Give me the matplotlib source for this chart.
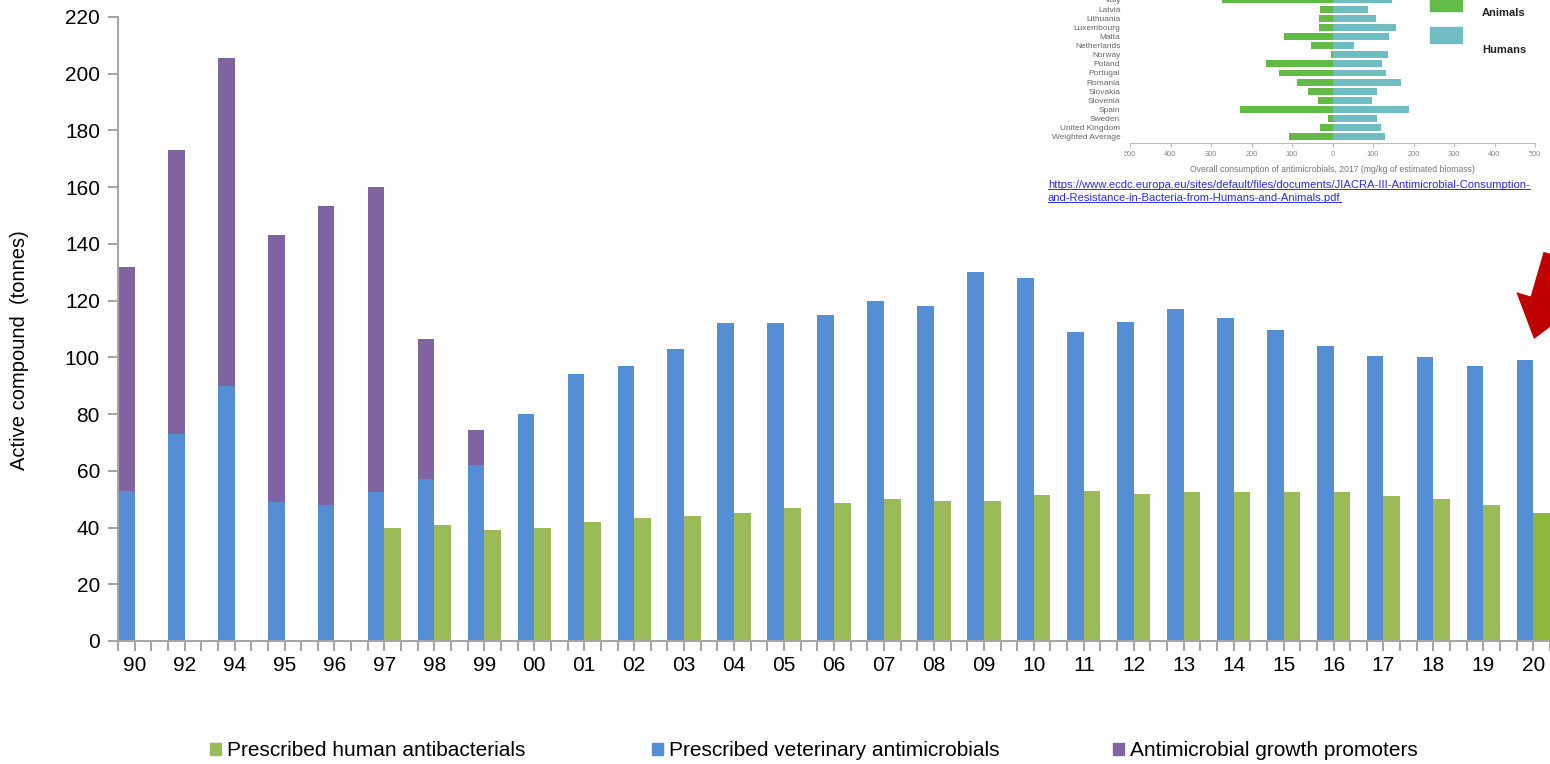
import matplotlib
matplotlib.use("Agg")
import matplotlib.pyplot as plt
import numpy as np
from matplotlib.patches import Patch, FancyArrow, Rectangle
from matplotlib.lines import Line2D
from matplotlib.transforms import IdentityTransform

plt.rcParams['font.family'] = ['Liberation Sans', 'DejaVu Sans']

# main chart data (tonnes of active compound)
years = ['90', '92', '94', '95', '96', '97', '98', '99', '00', '01', '02', '03',
         '04', '05', '06', '07', '08', '09', '10', '11', '12', '13', '14', '15',
         '16', '17', '18', '19', '20']
veterinary = [53, 73, 90, 49, 48, 52.5, 57, 62, 80, 94, 97, 103, 112, 112, 115,
              120, 118, 130, 128, 109, 112.5, 117, 114, 109.5, 104, 100.5, 100,
              97, 99]
promoters = [79, 100, 115.5, 94, 105.5, 107.5, 49.5, 12.5]
human = [np.nan, np.nan, np.nan, np.nan, np.nan, 40, 41, 39, 40, 42, 43.5, 44,
         45, 47, 48.5, 50, 49.5, 49.5, 51.5, 53, 52, 52.5, 52.5, 52.5, 52.5, 51,
         50, 48, 45]

# inset (ECDC JIACRA III screenshot) data, mg/kg of estimated biomass
countries = ['Italy', 'Latvia', 'Lithuania', 'Luxembourg', 'Malta', 'Netherlands',
             'Norway', 'Poland', 'Portugal', 'Romania', 'Slovakia', 'Slovenia',
             'Spain', 'Sweden', 'United Kingdom', 'Weighted Average']
animals = [272, 30, 34, 34, 119, 54, 2.5, 164, 133, 88, 61, 35, 228, 11, 31, 107]
humans = [148, 87, 107, 158, 140, 52, 136, 123, 133, 169, 111, 98, 190, 111, 119, 130]

c_green = '#9BBB59'
c_blue = '#558ED5'
c_purple = '#8064A2'
c_axis = '#A6A6A6'

W, H = 1550, 764
fig = plt.figure(figsize=(W / 100, H / 100), dpi=100)
ax = fig.add_axes([118 / W, (H - 641) / H, 1 - 118 / W, (641 - 17) / H])

x = np.arange(len(years))
w = 1 / 3
ax.bar(x - w / 2, veterinary, width=w, color=c_blue, zorder=2)
ax.bar(x[:len(promoters)] - w / 2, promoters, width=w,
       bottom=veterinary[:len(promoters)], color=c_purple, zorder=2)
hcolors = [c_green] * (len(years) - 1) + ['#8FB73E']
ax.bar(x + w / 2, human, width=w, color=hcolors, zorder=2)

ax.set_xlim(-w, (W - 118) / 50.04 - w)
ax.set_ylim(0, 220)
ax.set_yticks(range(0, 221, 20))
ax.set_xticks(x)
ax.set_xticklabels(years)
ax.set_xticks(np.concatenate([x - w, x + w]), minor=True)
for s in ['top', 'right']:
    ax.spines[s].set_visible(False)
for s in ['left', 'bottom']:
    ax.spines[s].set_color(c_axis)
    ax.spines[s].set_linewidth(1.5)
ax.tick_params(axis='both', which='both', color=c_axis, width=1.5, length=7,
               labelsize=15, labelcolor='black')
ax.tick_params(axis='x', which='major', pad=4)
ax.tick_params(axis='y', pad=6)

fig.text(20 / W, 1 - 350 / H, 'Active compound  (tonnes)', rotation=90,
         ha='center', va='center', fontsize=14.5)

# legend along the bottom
entries = [(210, c_green, 'Prescribed human antibacterials'),
           (652, c_blue, 'Prescribed veterinary antimicrobials'),
           (1113, c_purple, 'Antimicrobial growth promoters')]
for xpos, col, lab in entries:
    fig.legend(handles=[Patch(color=col, label=lab)], loc='center left',
               bbox_to_anchor=(xpos / W, 1 - 751 / H), frameon=False,
               fontsize=15, handlelength=0.55, handleheight=0.55,
               handletextpad=0.25, borderpad=0, borderaxespad=0)

# inset: screenshot of the ECDC chart
ia = fig.add_axes([1130 / W, 1 - 143 / H, 405 / W, 143 / H])
ia.patch.set_alpha(0)
r = np.arange(len(countries))
ia.barh(r, [-a for a in animals], height=0.75, color='#62BB47')
ia.barh(r, humans, height=0.75, color='#6DBDC3')
ia.set_xlim(-500, 500)
ia.set_ylim(146 / 9.12 - 0.33, 0.33)
ia.set_yticks(r)
ia.set_yticklabels(countries)
ia.set_xticks(range(-500, 501, 100))
ia.set_xticklabels([str(abs(v)) for v in range(-500, 501, 100)])
for s in ['top', 'right', 'left']:
    ia.spines[s].set_visible(False)
ia.spines['bottom'].set_color('#BBBBBB')
ia.tick_params(axis='y', length=0, pad=7, labelsize=6, labelcolor='#666666')
ia.tick_params(axis='x', length=3, color='#BBBBBB', pad=3, labelsize=5.3,
               labelcolor='#888888')

fig.add_artist(Rectangle((1430 / W, 1 - 11 / H), 32 / W, 16 / H,
                         transform=fig.transFigure, color='#62BB47'))
fig.add_artist(Rectangle((1430 / W, 1 - 43 / H), 32 / W, 16 / H,
                         transform=fig.transFigure, color='#6DBDC3'))
fig.text(1482 / W, 1 - 13 / H, 'Animals', fontsize=8, fontweight='bold',
         va='center', color='#222222')
fig.text(1482 / W, 1 - 50 / H, 'Humans', fontsize=8, fontweight='bold',
         va='center', color='#222222')
fig.text(1332 / W, 1 - 170 / H,
         'Overall consumption of antimicrobials, 2017 (mg/kg of estimated biomass)',
         fontsize=6.2, ha='center', va='center', color='#777777')

link_lines = ['https://www.ecdc.europa.eu/sites/default/files/documents/JIACRA-III-Antimicrobial-Consumption-',
              'and-Resistance-in-Bacteria-from-Humans-and-Animals.pdf']
link_texts = []
for i, t in enumerate(link_lines):
    link_texts.append(fig.text(1048 / W, 1 - (185 + 13 * i) / H, t, fontsize=8.1,
                               va='center', color='#2B2BF0'))
fig.canvas.draw()
for t in link_texts:
    bb = t.get_window_extent()
    fig.add_artist(Line2D([bb.x0 / W, bb.x1 / W], [(bb.y0 + 1) / H] * 2,
                          transform=fig.transFigure, color='#2B2BF0', lw=0.7))

# red arrow pointing at the last bars
fig.add_artist(FancyArrow(1558, H - 256, -24, -83, width=30, head_width=60,
                          head_length=40, length_includes_head=True,
                          transform=IdentityTransform(), color='#C00000', lw=0))

fig.savefig('out.png', dpi=100)
